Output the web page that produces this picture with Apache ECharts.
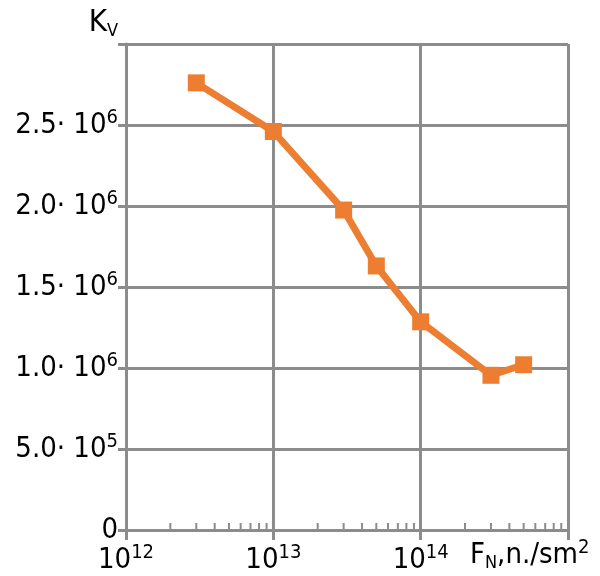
<!DOCTYPE html>
<html>
<head>
    <meta charset="UTF-8">
    <title>Kv vs fluence</title>
    <style>
        * { margin: 0; padding: 0; }
        html, body { width: 100%; height: 100%; background: #fff; }
        #chart { width: 600px; height: 576px; }
    </style>
</head>
<body>
    <div id="chart"></div>
    <script src="https://cdn.jsdelivr.net/npm/echarts@6/dist/echarts.min.js"></script>
    <script>
        // fluence, n./sm^2
        const fluence = [3e12, 1e13, 3e13, 5e13, 1e14, 3e14, 5e14];
        // Kv
        const kv = [2.76e6, 2.46e6, 1.975e6, 1.63e6, 1.285e6, 0.955e6, 1.02e6];
        // y tick labels: [mantissa, exponent]
        const yTickLabels = {
            0: ['0', ''],
            500000: ['5.0· 10', '5'],
            1000000: ['1.0· 10', '6'],
            1500000: ['1.5· 10', '6'],
            2000000: ['2.0· 10', '6'],
            2500000: ['2.5· 10', '6']
        };
        // minor tick positions on the log axis
        const minorTicks = [
            2e12, 3e12, 4e12, 5e12, 6e12, 7e12, 8e12, 9e12,
            2e13, 3e13, 4e13, 5e13, 6e13, 7e13, 8e13, 9e13,
            2e14, 3e14, 4e14, 5e14, 6e14, 7e14, 8e14, 9e14
        ];

        const gray = '#8c8c8c';
        const orange = '#ed7d31';
        const font = '"DejaVu Sans Condensed", "DejaVu Sans", sans-serif';

        const base = { fontFamily: font, fontSize: 29, color: '#000', lineHeight: 34 };
        const sup = { fontFamily: font, fontSize: 20, color: '#000', verticalAlign: 'top', lineHeight: 22 };
        const sub = { fontFamily: font, fontSize: 18, color: '#000', verticalAlign: 'bottom', lineHeight: 26 };

        const chart = echarts.init(document.getElementById('chart'));

        chart.setOption({
            animation: false,
            backgroundColor: '#fff',
            grid: { left: 126, right: 32, top: 44, bottom: 46 },
            xAxis: {
                type: 'log',
                logBase: 10,
                min: 1e12,
                max: 1e15,
                name: '{b|F}{sub|N}{b|,n./sm}{sup|2}',
                nameLocation: 'end',
                nameGap: -98,
                nameTextStyle: {
                    align: 'left',
                    verticalAlign: 'top',
                    padding: [8, 0, 0, 0],
                    rich: { b: base, sub: sub, sup: sup }
                },
                axisLine: { lineStyle: { color: gray, width: 3 } },
                axisTick: { show: true, length: 10, lineStyle: { color: gray, width: 3 } },
                splitLine: { show: true, lineStyle: { color: gray, width: 3 } },
                axisLabel: {
                    margin: 13,
                    formatter: (v) => {
                        const e = Math.round(Math.log10(v));
                        if (e >= 15) return '';
                        return '{b|10}{sup|' + e + '}';
                    },
                    rich: { b: base, sup: sup }
                }
            },
            yAxis: {
                type: 'value',
                min: 0,
                max: 3000000,
                interval: 500000,
                name: '{b|K}{sub|V}',
                nameLocation: 'end',
                nameGap: 4,
                nameTextStyle: {
                    align: 'right',
                    verticalAlign: 'bottom',
                    padding: [0, 8, 0, 0],
                    rich: { b: Object.assign({}, base, { fontSize: 31 }), sub: sub }
                },
                axisLine: { show: true, lineStyle: { color: gray, width: 3 } },
                axisTick: { show: true, length: 8, lineStyle: { color: gray, width: 3 } },
                splitLine: { show: true, lineStyle: { color: gray, width: 3 } },
                axisLabel: {
                    margin: 8,
                    formatter: (v) => {
                        const t = yTickLabels[v];
                        if (!t) return '';
                        if (!t[1]) return '{b|' + t[0] + '}';
                        return '{b|' + t[0] + '}{sup|' + t[1] + '}';
                    },
                    rich: { b: base, sup: sup }
                }
            },
            series: [
                {
                    type: 'custom',
                    silent: true,
                    clip: false,
                    data: minorTicks.map(v => [v, 0]),
                    renderItem: (params, api) => {
                        const p = api.coord([api.value(0), api.value(1)]);
                        return {
                            type: 'line',
                            shape: { x1: p[0], y1: p[1], x2: p[0], y2: p[1] - 7 },
                            style: { stroke: gray, lineWidth: 2 }
                        };
                    }
                },
                {
                    type: 'line',
                    data: fluence.map((x, i) => [x, kv[i]]),
                    symbol: 'rect',
                    symbolSize: 17,
                    lineStyle: { color: orange, width: 7 },
                    itemStyle: { color: orange },
                    z: 5
                }
            ]
        });
    </script>
</body>
</html>
